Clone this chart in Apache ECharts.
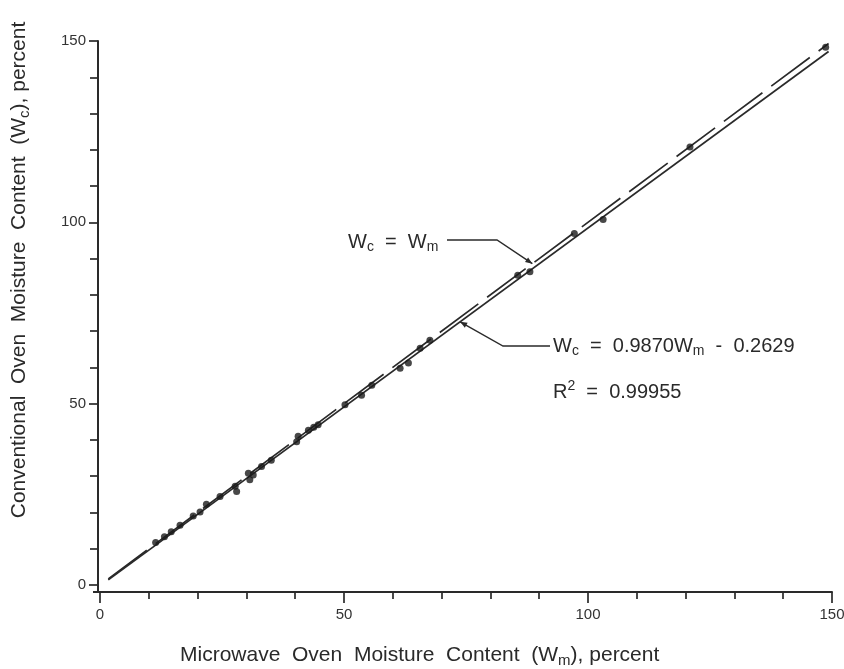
<!DOCTYPE html>
<html>
<head>
<meta charset="utf-8">
<script src="https://cdn.jsdelivr.net/npm/echarts@6/dist/echarts.min.js"></script>
<style>
  html, body { margin: 0; padding: 0; background: #ffffff; }
  #chart { width: 844px; height: 669px; }
</style>
</head>
<body>
<div id="chart"></div>
<script>
// Moisture content of the same samples dried in a microwave oven (Wm) and a conventional oven (Wc), percent
const microwaveWm = [11.4, 13.2, 14.6, 16.4, 19.1, 20.5, 21.8, 24.6, 27.7, 28.0, 30.4, 30.7, 31.4, 33.1, 35.1,
  40.3, 40.6, 42.7, 43.8, 44.7, 50.2, 53.6, 55.7, 61.5, 63.2, 65.6, 67.6, 85.6, 88.1, 97.2, 103.1, 120.9, 148.7];
const conventionalWc = [11.7, 13.3, 14.7, 16.5, 19.0, 20.1, 22.3, 24.4, 27.2, 25.8, 30.8, 29.0, 30.3, 32.7, 34.4,
  39.5, 41.0, 42.7, 43.5, 44.2, 49.7, 52.3, 55.1, 59.8, 61.2, 65.3, 67.5, 85.4, 86.4, 96.9, 100.8, 120.8, 148.3];

// Axis tick values (same on both axes)
const axisTicks = [0, 50, 100, 150];

// Least-squares fit stated on the chart: Wc = 0.9870 Wm - 0.2629, R^2 = 0.99955
const fitSlope = 0.9870;
const fitIntercept = -0.2629;
const fitR2 = '0.99955';
// Span of Wm over which the 1:1 line and the fitted line are drawn
const lineSpanWm = [1.7, 149.3];
// Where each callout arrow meets its line (Wm value)
const identityCalloutWm = 88.6;
const fitCalloutWm = 73.8;

const identityLine = lineSpanWm.map(function (x) { return [x, x]; });
const fitLine = lineSpanWm.map(function (x) { return [x, fitSlope * x + fitIntercept]; });
const points = microwaveWm.map(function (x, i) { return [x, conventionalWc[i]]; });

const FONT = '"Liberation Sans", Arial, Helvetica, sans-serif';
const INK = '#2a2a2a';
const X_OFFSET = 7;
const Y_OFFSET = 2;

function axisCommon(extra) {
  return Object.assign({
    type: 'value',
    min: axisTicks[0],
    max: axisTicks[axisTicks.length - 1],
    interval: axisTicks[1] - axisTicks[0],
    axisLine: { show: true, onZero: false, lineStyle: { color: INK, width: 2 } },
    splitLine: { show: false },
    minorSplitLine: { show: false }
  }, extra);
}

const chart = echarts.init(document.getElementById('chart'), null, { renderer: 'canvas' });

chart.setOption({
  animation: false,
  backgroundColor: '#ffffff',
  grid: { left: 100, right: 12, top: 41, bottom: 84, containLabel: false, outerBoundsMode: 'none' },
  xAxis: axisCommon({
    offset: X_OFFSET,
    axisTick: { show: true, inside: false, length: 11, lineStyle: { color: INK, width: 1.7 } },
    minorTick: { show: true, splitNumber: 5, length: 7, lineStyle: { color: INK, width: 1.7 } },
    axisLabel: { color: '#333', fontSize: 15, fontFamily: FONT, margin: 15 }
  }),
  yAxis: axisCommon({
    offset: Y_OFFSET,
    axisTick: { show: true, inside: false, length: 9, lineStyle: { color: INK, width: 1.7 } },
    minorTick: { show: true, splitNumber: 5, length: 8, lineStyle: { color: INK, width: 1.7 } },
    axisLabel: { color: '#333', fontSize: 15, fontFamily: FONT, margin: 12 }
  }),
  series: [
    {
      name: 'Wc = Wm',
      type: 'line',
      data: identityLine,
      symbol: 'none',
      lineStyle: { color: INK, width: 1.7, type: [48, 11] },
      z: 2
    },
    {
      name: 'fit',
      type: 'line',
      data: fitLine,
      symbol: 'none',
      lineStyle: { color: INK, width: 1.7 },
      z: 2
    },
    {
      name: 'samples',
      type: 'scatter',
      data: points,
      symbol: 'circle',
      symbolSize: 7,
      itemStyle: { color: '#1a1a1a' },
      z: 3
    }
  ]
});

// Callouts, axis titles and equation labels
function richStyles(size) {
  return {
    w: { fontSize: size, fontFamily: FONT, fill: '#2a2a2a', color: '#2a2a2a' },
    s: { fontSize: Math.round(size * 0.7), fontFamily: FONT, fill: '#2a2a2a', color: '#2a2a2a', padding: [Math.round(size * 0.55), 0, 0, 0] },
    p: { fontSize: Math.round(size * 0.7), fontFamily: FONT, fill: '#2a2a2a', color: '#2a2a2a', padding: [0, 0, Math.round(size * 0.55), 0] }
  };
}

function arrowHead(tip, from, size) {
  const dx = tip[0] - from[0], dy = tip[1] - from[1];
  const len = Math.sqrt(dx * dx + dy * dy);
  const ux = dx / len, uy = dy / len;
  const bx = tip[0] - ux * size, by = tip[1] - uy * size;
  const w = size * 0.4;
  return {
    type: 'polygon',
    shape: { points: [tip, [bx - uy * w, by + ux * w], [bx + uy * w, by - ux * w]] },
    style: { fill: INK },
    silent: true
  };
}

const tip1 = chart.convertToPixel({ gridIndex: 0 }, [identityCalloutWm, identityCalloutWm]);
const tip2 = chart.convertToPixel({ gridIndex: 0 }, [fitCalloutWm, fitSlope * fitCalloutWm + fitIntercept]);
const elbow1 = [497, 240];
const elbow2 = [503, 346];
// Corner where the offset axes meet
const origin = chart.convertToPixel({ gridIndex: 0 }, [axisTicks[0], axisTicks[0]]);

const fmt = function (v) { return Math.abs(v).toFixed(4); };
const annot = richStyles(20);
const titles = richStyles(21);

chart.setOption({
  graphic: [
    {
      type: 'line',
      shape: { x1: origin[0] - Y_OFFSET, y1: origin[1], x2: origin[0] - Y_OFFSET, y2: origin[1] + X_OFFSET },
      style: { stroke: INK, lineWidth: 2 },
      silent: true
    },
    {
      type: 'line',
      shape: { x1: origin[0] - Y_OFFSET - 5, y1: origin[1] + X_OFFSET, x2: origin[0], y2: origin[1] + X_OFFSET },
      style: { stroke: INK, lineWidth: 2 },
      silent: true
    },
    {
      type: 'polyline',
      shape: { points: [[447, 240], elbow1, tip1] },
      style: { stroke: INK, lineWidth: 1.4, fill: null },
      silent: true
    },
    arrowHead(tip1, elbow1, 7),
    {
      type: 'polyline',
      shape: { points: [[550, 346], elbow2, tip2] },
      style: { stroke: INK, lineWidth: 1.4, fill: null },
      silent: true
    },
    arrowHead(tip2, elbow2, 7),
    {
      type: 'text',
      x: 348, y: 242,
      style: {
        text: '{w|W}{s|c}{w|  =  W}{s|m}',
        rich: annot,
        textAlign: 'left', textVerticalAlign: 'middle'
      },
      silent: true
    },
    {
      type: 'text',
      x: 553, y: 346,
      style: {
        text: '{w|W}{s|c}{w|  =  ' + fmt(fitSlope) + 'W}{s|m}{w|  ' + (fitIntercept < 0 ? '-' : '+') + '  ' + fmt(fitIntercept) + '}',
        rich: annot,
        textAlign: 'left', textVerticalAlign: 'middle'
      },
      silent: true
    },
    {
      type: 'text',
      x: 553, y: 392,
      style: {
        text: '{w|R}{p|2}{w|  =  ' + fitR2 + '}',
        rich: annot,
        textAlign: 'left', textVerticalAlign: 'middle'
      },
      silent: true
    },
    {
      type: 'text',
      x: 180, y: 655,
      style: {
        text: '{w|Microwave  Oven  Moisture  Content  (W}{s|m}{w|), percent}',
        rich: titles,
        textAlign: 'left', textVerticalAlign: 'middle'
      },
      silent: true
    },
    {
      type: 'text',
      x: 19, y: 270,
      rotation: Math.PI / 2,
      style: {
        text: '{w|Conventional  Oven  Moisture  Content  (W}{s|c}{w|), percent}',
        rich: titles,
        textAlign: 'center', textVerticalAlign: 'middle'
      },
      silent: true
    }
  ]
});
</script>
</body>
</html>
